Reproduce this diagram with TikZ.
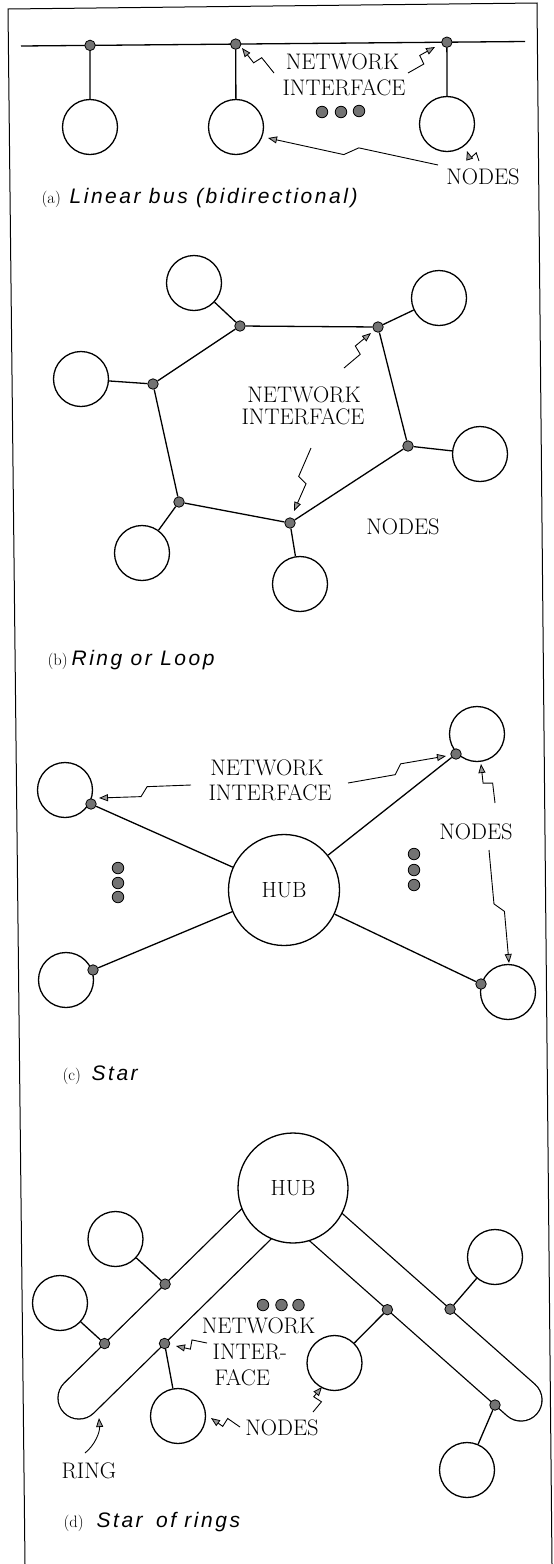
\documentclass[tikz,border=0pt]{standalone}
\usepackage{fontspec}
\newfontfamily\capfont[LetterSpace=12]{Liberation Sans}
\usepackage{tikz}
\usetikzlibrary{positioning, calc, arrows.meta}

\newcommand{\zap}[2]{\draw[zap] (#1) -- ($(#1)!0.47!(#2)!4.5pt!-90:(#2)$) -- ($(#1)!0.55!(#2)!4.5pt!90:(#2)$) -- (#2);}

\begin{document}
\begin{tikzpicture}[x=1pt,y=-1pt,line width=1.3pt,
	stn/.style={circle,draw,minimum size=55pt,inner sep=0pt},
	hub/.style={stn,fill=white,font=\fontsize{22}{24}\selectfont},
	iface/.style={circle,draw,fill=black!55,minimum size=10.5pt,inner sep=0pt,line width=0.8pt},
	more/.style={iface,minimum size=11.5pt},
	lbl/.style={inner sep=0pt,font=\fontsize{22.5}{26}\selectfont},
	zap/.style={line width=0.9pt,-{Triangle[fill=black!40,length=9pt,width=7pt,line width=0.8pt]}},
	tag/.style={anchor=base west,inner sep=0pt,font=\fontsize{16.5}{19}\selectfont},
	capt/.style={anchor=base west,inner sep=0pt,font=\capfont\itshape\fontsize{21}{24}\selectfont},
	ringband/.style={double distance=40.7pt,line width=1.3pt,line cap=round}]
	\useasboundingbox (0,0) rectangle (554,1564);
	\coordinate (ftl) at (8,9);
	\coordinate (ftr) at (537,3);
	\coordinate (fbl) at (25,1564);
	\coordinate (fbr) at (552,1564);
	\draw[line width=1pt] (fbl) -- (ftl) -- (ftr) -- (fbr);

	% (a) linear bus
	\coordinate (busL) at (21,46);
	\coordinate (busR) at (525,41.5);
	\draw (busL) -- (busR);
	\node[stn] (na1) at (90,127) {};
	\node[stn] (na2) at (236,127) {};
	\node[stn] (na3) at (447,124) {};
	\node[iface] (ia1) at ($(busL)!0.137!(busR)$) {};
	\node[iface] (ia2) at ($(busL)!0.426!(busR)$) {};
	\node[iface] (ia3) at ($(busL)!0.845!(busR)$) {};
	\draw (ia1) -- (na1) (ia2) -- (na2) (ia3) -- (na3);
	\node[more] (ma1) at (322,112) {};
	\node[more] (ma2) at (341,112) {};
	\node[more] (ma3) at (359,111) {};
	\node[lbl] (neta) at (342.5,61.5) {NETWORK};
	\node[lbl] (inta) at (344,88) {INTERFACE};
	\node[lbl] (noda) at (483,176.5) {NODES};
	\coordinate (ta1) at (274,73);  \coordinate (pa1) at (242,48);
	\coordinate (ta2) at (408,73);  \coordinate (pa2) at (435,47);
	\coordinate (ta3) at (438,165); \coordinate (pa3) at (268,138);
	\coordinate (ta4) at (479,161); \coordinate (pa4) at (467,151);
	\zap{ta1}{pa1} \zap{ta2}{pa2} \zap{ta3}{pa3} \zap{ta4}{pa4}
	\node[tag] (ca) at (41,203) {(a)};
	\node[capt] (cta) at (69,203) {Linear bus (bidirectional)};

	% (b) ring or loop
	\node[iface] (rb1) at (240,326) {};
	\node[iface] (rb2) at (378,327) {};
	\node[iface] (rb3) at (408,446) {};
	\node[iface] (rb4) at (290,523) {};
	\node[iface] (rb5) at (179,502) {};
	\node[iface] (rb6) at (153,384) {};
	\draw (rb1) -- (rb2) -- (rb3) -- (rb4) -- (rb5) -- (rb6) -- (rb1);
	\node[stn] (nb1) at (194,283) {};
	\node[stn] (nb2) at (439,298) {};
	\node[stn] (nb3) at (81,379) {};
	\node[stn] (nb4) at (480,454) {};
	\node[stn] (nb5) at (142,553) {};
	\node[stn] (nb6) at (300,584) {};
	\draw (nb1) -- (rb1) (nb2) -- (rb2) (nb3) -- (rb6) (nb4) -- (rb3) (nb5) -- (rb5) (nb6) -- (rb4);
	\node[lbl] (netb) at (304,395) {NETWORK};
	\node[lbl] (intb) at (303,417) {INTERFACE};
	\node[lbl] (nodb) at (403,527) {NODES};
	\coordinate (tb1) at (344,368); \coordinate (pb1) at (371,333);
	\coordinate (tb2) at (311,448); \coordinate (pb2) at (294,511);
	\zap{tb1}{pb1} \zap{tb2}{pb2}
	\node[tag] (cb) at (47,665) {(b)};
	\node[capt] (ctb) at (71,665) {Ring or Loop};

	% (c) star
	\node[hub,minimum size=111pt] (hubc) at (284,890) {HUB};
	\node[stn] (nc1) at (65,790) {};
	\node[stn] (nc2) at (477,734) {};
	\node[stn] (nc3) at (66,980) {};
	\node[stn] (nc4) at (508,992) {};
	\node[iface] (ic1) at (91,804) {};
	\node[iface] (ic2) at (456,754) {};
	\node[iface] (ic3) at (93,970) {};
	\node[iface] (ic4) at (481,984) {};
	\draw (ic1) -- (hubc) (ic2) -- (hubc) (ic3) -- (hubc) (ic4) -- (hubc);
	\foreach \y [count=\i] in {868,883,897} \node[more] (mcl\i) at (118,\y) {};
	\foreach \y [count=\i] in {854,870,885} \node[more] (mcr\i) at (414,\y) {};
	\node[lbl] (netc) at (267,768) {NETWORK};
	\node[lbl] (intc) at (270,793) {INTERFACE};
	\node[lbl] (nodc) at (476,832) {NODES};
	\coordinate (tc1) at (191,785); \coordinate (pc1) at (99,798);
	\coordinate (tc2) at (348,783); \coordinate (pc2) at (446,756);
	\coordinate (tc3) at (495,803); \coordinate (pc3) at (481,764);
	\coordinate (tc4) at (489,850); \coordinate (pc4) at (509,963);
	\zap{tc1}{pc1} \zap{tc2}{pc2} \zap{tc3}{pc3} \zap{tc4}{pc4}
	\node[tag] (cc) at (62,1080) {(c)};
	\node[capt] (ctc) at (91,1080) {Star};

	% (d) star of rings
	\coordinate (LC) at (79,1398);
	\coordinate (LH) at (293,1188);
	\coordinate (RC) at (521,1400);
	\coordinate (RH) at (293,1198);
	\draw[ringband] (LC) -- (LH);
	\draw[ringband] (RC) -- (RH);
	\node[hub,minimum size=110pt] (hubd) at (293,1188) {HUB};
	\node[stn] (nd1) at (115.5,1239) {};
	\node[stn] (nd2) at (60,1303) {};
	\node[stn] (nd3) at (178,1416) {};
	\node[stn] (nd4) at (334.5,1363) {};
	\node[stn] (nd5) at (495,1257) {};
	\node[stn] (nd6) at (467,1470) {};
	\node[iface] (id1) at ($(LC)!0.471!(LH)!21pt!90:(LH)$) {};
	\node[iface] (id2) at ($(LC)!0.188!(LH)!21pt!90:(LH)$) {};
	\node[iface] (id3) at ($(LC)!0.331!(LH)!21pt!-90:(LH)$) {};
	\node[iface] (id4) at ($(RC)!0.525!(RH)!21pt!90:(RH)$) {};
	\node[iface] (id5) at ($(RC)!0.372!(RH)!21pt!-90:(RH)$) {};
	\node[iface] (id6) at ($(RC)!0.053!(RH)!21pt!90:(RH)$) {};
	\draw (nd1) -- (id1) (nd2) -- (id2) (nd3) -- (id3) (nd4) -- (id4) (nd5) -- (id5) (nd6) -- (id6);
	\node[more] (md1) at (263,1305) {};
	\node[more] (md2) at (281.5,1305) {};
	\node[more] (md3) at (298.5,1305) {};
	\node[lbl] (netd) at (258.5,1326) {NETWORK};
	\node[lbl,anchor=west] (intd) at (212,1352) {INTER-};
	\node[lbl,anchor=west] (facd) at (214,1378) {FACE};
	\node[lbl] (nodd) at (282,1428) {NODES};
	\node[lbl] (ring) at (89,1471) {RING};
	\coordinate (td1) at (207,1343); \coordinate (pd1) at (176,1346);
	\coordinate (td2) at (240,1427); \coordinate (pd2) at (211,1418);
	\coordinate (td3) at (313,1412); \coordinate (pd3) at (322,1387);
	\zap{td1}{pd1} \zap{td2}{pd2} \zap{td3}{pd3}
	\coordinate (tr) at (85,1453); \coordinate (pr) at (99,1418);
	\draw[zap] (tr) .. controls +(10,-8) and +(1,14) .. (pr);
	\node[tag] (cd) at (63,1527) {(d)};
	\node[capt] (ctd) at (96,1527) {Star\hspace{5pt} of rings};
\end{tikzpicture}
\end{document}
